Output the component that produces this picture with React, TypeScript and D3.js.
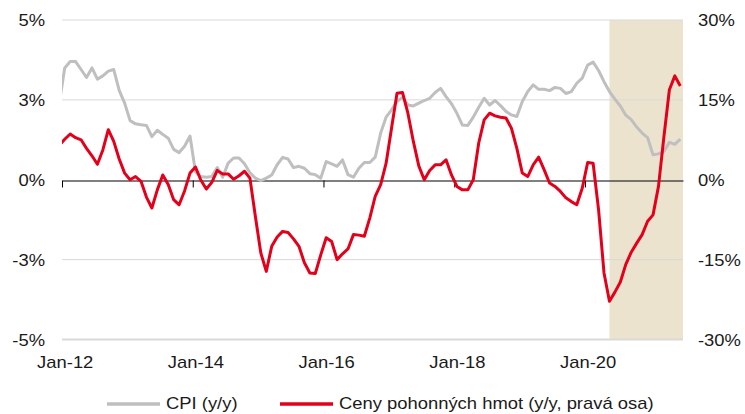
import React, { useEffect, useRef } from "react";
import * as d3 from "d3";

// monthly values, first value is Dec-11 (month -1, counted from Jan-12)
const firstMonth = -1;
const cpi = [
  2.4, 3.5, 3.7, 3.7, 3.45, 3.2, 3.5, 3.15, 3.25, 3.4, 3.45, 2.8, 2.4,
  1.85, 1.75, 1.72, 1.7, 1.35, 1.55, 1.42, 1.3, 0.95, 0.85, 1.05, 1.37,
  0.25, 0.1, 0.08, 0.1, 0.38, 0.08, 0.52, 0.68, 0.68, 0.5, 0.22, 0.05,
  -0.03, 0.05, 0.15, 0.47, 0.7, 0.65, 0.38, 0.42, 0.36, 0.19, 0.16, 0.05,
  0.57, 0.5, 0.42, 0.62, 0.16, 0.08, 0.36, 0.54, 0.54, 0.71, 1.46, 1.96,
  2.19, 2.45, 2.58, 2.34, 2.31, 2.4, 2.48, 2.55, 2.73, 2.86, 2.6, 2.38,
  2.08, 1.71, 1.7, 1.96, 2.27, 2.55, 2.34, 2.48, 2.32, 2.14, 2.03, 1.98,
  2.45, 2.76, 2.97, 2.83, 2.83, 2.79, 2.89, 2.86, 2.7, 2.76, 3.02, 3.18,
  3.59, 3.68, 3.42, 3.07, 2.76, 2.52, 2.31, 2.02, 1.88, 1.65, 1.46, 1.32,
  0.78, 0.81, 0.89, 1.17, 1.11, 1.27,
];
const fuel = [
  6.5, 7.6, 8.6, 7.9, 7.5, 5.9, 4.5, 2.9, 5.6, 9.4, 7.2, 3.9, 1.25,
  0, 0.6, -0.3, -3.25, -5.3, -1.9, 0.9, -0.9, -3.75, -4.7, -2.1, 1.25,
  2.4, -0.1, -1.75, -0.5, 1.75, 1.1, 1.1, 0.1, 0.75, 1.6, 0.3, -6.9,
  -13.75, -17.2, -12.5, -10.75, -9.7, -9.9, -11.1, -12.5, -15.6, -17.5, -17.6, -14.1,
  -10.9, -11.6, -15, -13.9, -13, -10.3, -10.4, -10.6, -7.2, -3.1, -0.9, 3.1,
  9.7, 16.25, 16.4, 12.5, 7.2, 2.6, 0, 1.75, 2.8, 2.8, 3.75, 0.9,
  -1.25, -1.9, -1.9, 0, 6.9, 11.25, 12.5, 12, 11.75, 11.6, 9.7, 5.9,
  1.25, 0.6, 2.8, 4.25, 1.9, -0.6, -1.25, -2.2, -3.4, -4.1, -4.7, -1.6,
  3.25, 3.1, -5.6, -17.5, -22.8, -21.1, -19.2, -15.9, -13.6, -11.9, -10.3, -7.8,
  -6.6, -1.25, 8.1, 16.9, 19.5, 17.6,
];

const xTicks = [0, 24, 48, 72, 96];
const xTickLabels = ["Jan-12", "Jan-14", "Jan-16", "Jan-18", "Jan-20"];
const leftTicks = [5, 2.5, 0, -2.5, -5];
const leftTickLabels = ["5%", "3%", "0%", "-3%", "-5%"];
const rightTicks = [30, 15, 0, -15, -30];
const rightTickLabels = ["30%", "15%", "0%", "-15%", "-30%"];
const forecastStart = 100; // May-20
const seriesNames = ["CPI (y/y)", "Ceny pohonných hmot (y/y, pravá osa)"];
const seriesColors = ["#bfbfbf", "#e3001b"];

const FONT = "'Liberation Sans', Arial, sans-serif";
const STRETCH = "scale(1.15,1)";

const App = () => {
  const svgRef = useRef<SVGSVGElement>(null);

  useEffect(() => {
    const width = 745;
    const height = 414;
    const margin = { top: 20, right: 62, bottom: 74.5, left: 62 };
    const svg = d3.select(svgRef.current);
    svg.selectAll("*").remove();

    const x = d3.scaleLinear().domain([0, 114]).range([margin.left, width - margin.right]);
    const yLeft = d3.scaleLinear().domain([-5, 5]).range([height - margin.bottom, margin.top]);
    const yRight = d3.scaleLinear().domain([-30, 30]).range([height - margin.bottom, margin.top]);

    // forecast shading
    svg.append("rect")
      .attr("x", x(forecastStart + 0.5))
      .attr("y", yLeft(5))
      .attr("width", x(114) - x(forecastStart + 0.5))
      .attr("height", yLeft(-5) - yLeft(5))
      .attr("fill", "#ebe3cd");

    // gridlines
    svg.append("g")
      .selectAll("line")
      .data(leftTicks.filter(d => d !== 0))
      .join("line")
      .attr("x1", x(0))
      .attr("x2", x(114))
      .attr("y1", d => yLeft(d))
      .attr("y2", d => yLeft(d))
      .attr("stroke", "#d9d9d9")
      .attr("stroke-width", d => (d === -5 ? 2 : 1));

    // zero line with ticks
    const zeroAxis = svg.append("g")
      .attr("transform", `translate(0,${Math.round(yLeft(0)) + 0.5})`)
      .call(d3.axisBottom(x).tickValues(xTicks).tickSize(7).tickSizeOuter(0).tickFormat(() => ""));
    zeroAxis.select(".domain").attr("stroke", "#000");
    zeroAxis.selectAll(".tick line").attr("stroke", "#000");

    // x labels
    const xLabels = svg.append("g")
      .attr("transform", `translate(0,${yLeft(-5)})`)
      .call(d3.axisBottom(x)
        .tickValues(xTicks.map(m => m + 0.5))
        .tickSize(0)
        .tickFormat((_, i) => xTickLabels[i]));
    xLabels.select(".domain").remove();
    xLabels.selectAll("text")
      .attr("y", 0).attr("dy", 0)
      .attr("transform", `translate(0,28.5) ${STRETCH}`);

    const leftAxis = svg.append("g")
      .attr("transform", `translate(${x(0)},0)`)
      .call(d3.axisLeft(yLeft).tickValues(leftTicks).tickSize(0).tickFormat((_, i) => leftTickLabels[i]));
    leftAxis.select(".domain").remove();
    leftAxis.selectAll("text")
      .attr("x", 0).attr("dy", "0.36em")
      .attr("transform", `translate(-17,0) ${STRETCH}`);

    const rightAxis = svg.append("g")
      .attr("transform", `translate(${x(114)},0)`)
      .call(d3.axisRight(yRight).tickValues(rightTicks).tickSize(0).tickFormat((_, i) => rightTickLabels[i]));
    rightAxis.select(".domain").remove();
    rightAxis.selectAll("text")
      .attr("x", 0).attr("dy", "0.36em")
      .attr("transform", `translate(15,0) ${STRETCH}`);

    svg.selectAll("text")
      .attr("font-family", FONT)
      .attr("font-size", 16)
      .attr("fill", "#1a1a1a");

    // lines
    svg.append("clipPath").attr("id", "plot-clip")
      .append("rect")
      .attr("x", x(0)).attr("y", 0)
      .attr("width", x(114) - x(0)).attr("height", height);

    const lineLeft = d3.line<number>()
      .x((_, k) => x(firstMonth + k + 0.5))
      .y(d => yLeft(d));
    const lineRight = d3.line<number>()
      .x((_, k) => x(firstMonth + k + 0.5))
      .y(d => yRight(d));

    const plot = svg.append("g").attr("clip-path", "url(#plot-clip)");
    plot.append("path")
      .attr("d", lineLeft(cpi))
      .attr("fill", "none")
      .attr("stroke", seriesColors[0])
      .attr("stroke-width", 3)
      .attr("stroke-linejoin", "round");
    plot.append("path")
      .attr("d", lineRight(fuel))
      .attr("fill", "none")
      .attr("stroke", seriesColors[1])
      .attr("stroke-width", 3)
      .attr("stroke-linejoin", "round");

    // legend
    const legendItems = [
      { x: 107, name: seriesNames[0], color: seriesColors[0] },
      { x: 280, name: seriesNames[1], color: seriesColors[1] },
    ];
    const legend = svg.append("g");
    legendItems.forEach(item => {
      legend.append("line")
        .attr("x1", item.x).attr("x2", item.x + 53)
        .attr("y1", 404).attr("y2", 404)
        .attr("stroke", item.color)
        .attr("stroke-width", 3.5);
      legend.append("text")
        .attr("transform", `translate(${item.x + 59},409) ${STRETCH}`)
        .attr("font-family", FONT)
        .attr("font-size", 16)
        .attr("fill", "#1a1a1a")
        .text(item.name);
    });
  }, []);

  return (
    <svg
      ref={svgRef}
      width={745}
      height={414}
      style={{ position: "absolute", left: 0, top: 0, background: "#fff" }}
    />
  );
};

export default App;
